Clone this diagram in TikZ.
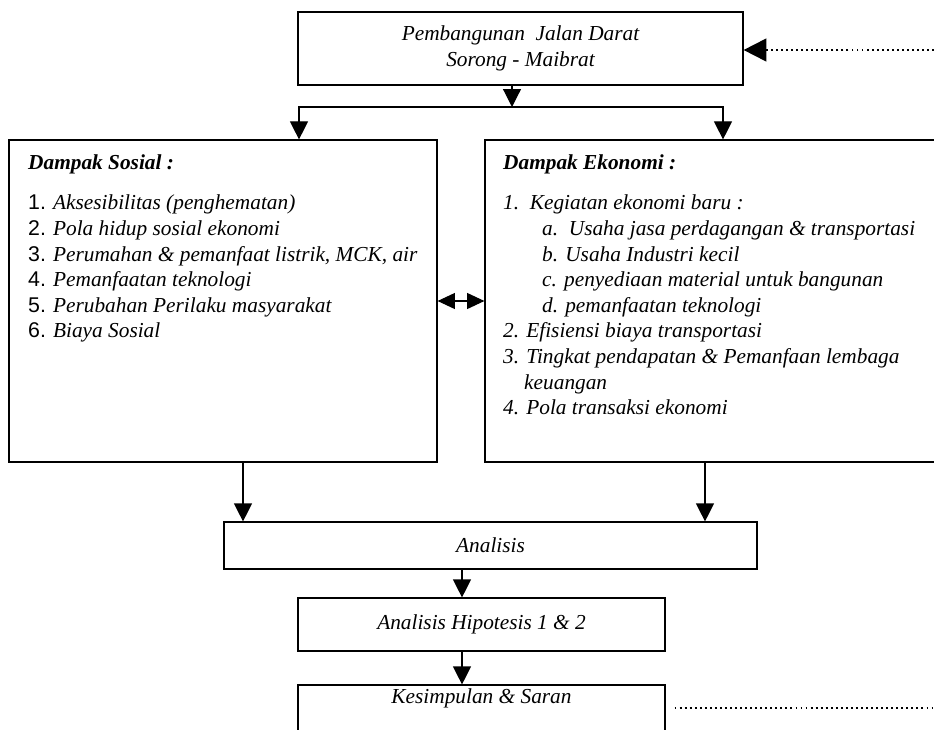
\documentclass[tikz,border=0pt]{standalone}
\usepackage{fontspec}
\setmainfont{Liberation Serif}
\newfontfamily\numfont{Liberation Sans}
\usetikzlibrary{arrows.meta}

\begin{document}
\begin{tikzpicture}[
    x=0.03cm, y=-0.03cm,
    txt/.style={font=\itshape\fontsize{18.2}{21.85}\selectfont},
    box/.style={draw, line width=1pt, inner sep=0pt, align=center, txt},
    list/.style={anchor=north west, align=left, inner sep=0pt, txt},
    arrow/.style={-{Triangle[length=0.54cm, width=0.54cm]}, line width=1pt},
    dblarrow/.style={{Triangle[length=0.52cm, width=0.48cm]}-{Triangle[length=0.52cm, width=0.48cm]}, line width=1pt},
    dotline/.style={line width=1.7pt, dash pattern=on 1.6pt off 2.7pt}
]
    \useasboundingbox (0,0) rectangle (934,729);
    \clip (0,0) rectangle (934,729);

    % boxes
    \node[box, minimum width=13.35cm, minimum height=2.19cm] (jalan) at (520.5,48.5) {Pembangunan\ \ Jalan Darat\\Sorong - Maibrat};
    \node[box, minimum width=12.84cm, minimum height=9.66cm] (sosial) at (223,301) {};
    \node[box, minimum width=14.4cm, minimum height=9.66cm] (ekonomi) at (725,301) {};
    \node[box, minimum width=15.99cm, minimum height=1.41cm] (analisis) at (490.5,545.5) {Analisis};
    \node[box, minimum width=11.01cm, minimum height=1.59cm] (hipotesis) at (481.5,624.5) {Analisis Hipotesis 1 \& 2};
    \node[box, minimum width=11.01cm, minimum height=1.95cm] (saran) at (481.5,717.5) {};
    \node[txt] (sarantxt) at (481.5,698.5) {Kesimpulan \& Saran};

    % box contents
    \node[list] (sosiallist) at (28,154) {\textbf{Dampak Sosial :}\\[0.46cm]
        {\numfont\upshape 1.} Aksesibilitas (penghematan)\\
        {\numfont\upshape 2.} Pola hidup sosial ekonomi\\
        {\numfont\upshape 3.} Perumahan \& pemanfaat listrik, MCK, air\\
        {\numfont\upshape 4.} Pemanfaatan teknologi\\
        {\numfont\upshape 5.} Perubahan Perilaku masyarakat\\
        {\numfont\upshape 6.} Biaya Sosial};
    \node[list] (ekonomilist) at (503,154) {\textbf{Dampak Ekonomi :}\\[0.46cm]
        1.\ \ Kegiatan ekonomi baru :\\
        \hspace*{1.17cm}a.\ \ Usaha jasa perdagangan \& transportasi\\
        \hspace*{1.17cm}b. Usaha Industri kecil\\
        \hspace*{1.17cm}c. penyediaan material untuk bangunan\\
        \hspace*{1.17cm}d. pemanfaatan teknologi\\
        2. Efisiensi biaya transportasi\\
        3. Tingkat pendapatan \& Pemanfaan lembaga\\
        \hspace*{0.63cm}keuangan\\
        4. Pola transaksi ekonomi};

    % helper points
    \coordinate (split) at (512,107);
    \coordinate (tx) at (512,0);
    \coordinate (lx) at (299,0);
    \coordinate (rx) at (723,0);
    \coordinate (sx) at (243,0);
    \coordinate (ex) at (705,0);
    \coordinate (mx) at (462,0);
    \coordinate (dotin) at (934,50);
    \coordinate (dotout) at (934,708);

    % road to both impacts
    \draw[arrow] (jalan.south -| tx) -- (split);
    \draw[arrow] (split) -| (sosial.north -| lx);
    \draw[arrow] (split) -| (ekonomi.north -| rx);
    \draw[dblarrow] (sosial) -- (ekonomi);

    % impacts to conclusion
    \draw[arrow] (sosial.south -| sx) -- (analisis.north -| sx);
    \draw[arrow] (ekonomi.south -| ex) -- (analisis.north -| ex);
    \draw[arrow] (analisis.south -| mx) -- (hipotesis.north -| mx);
    \draw[arrow] (hipotesis.south -| mx) -- (saran.north -| mx);

    % dotted links
    \draw[dotline, -{Triangle[length=0.68cm, width=0.68cm]}] (dotin) -- (jalan.east |- dotin);
    \draw[dotline, shorten <=0.27cm] (saran.east |- dotout) -- (dotout);
\end{tikzpicture}
\end{document}
